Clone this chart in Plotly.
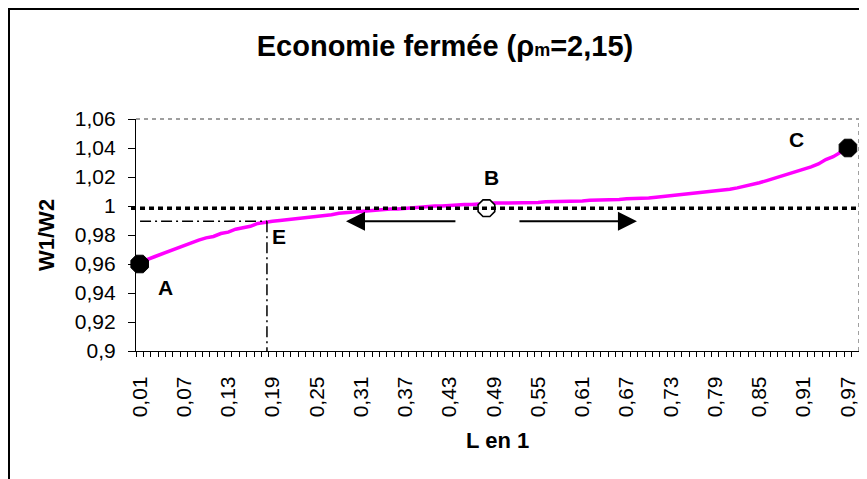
import plotly.graph_objects as go

# ---------------- data ----------------
L_VALUES = [0.01, 0.02, 0.03, 0.04, 0.05, 0.06, 0.07, 0.08, 0.09, 0.10,
            0.11, 0.12, 0.13, 0.14, 0.15, 0.16, 0.17, 0.18, 0.19, 0.20,
            0.21, 0.22, 0.23, 0.24, 0.25, 0.26, 0.27, 0.28, 0.29, 0.30,
            0.31, 0.32, 0.33, 0.34, 0.35, 0.36, 0.37, 0.38, 0.39, 0.40,
            0.41, 0.42, 0.43, 0.44, 0.45, 0.46, 0.47, 0.48, 0.49, 0.50,
            0.51, 0.52, 0.53, 0.54, 0.55, 0.56, 0.57, 0.58, 0.59, 0.60,
            0.61, 0.62, 0.63, 0.64, 0.65, 0.66, 0.67, 0.68, 0.69, 0.70,
            0.71, 0.72, 0.73, 0.74, 0.75, 0.76, 0.77, 0.78, 0.79, 0.80,
            0.81, 0.82, 0.83, 0.84, 0.85, 0.86, 0.87, 0.88, 0.89, 0.90,
            0.91, 0.92, 0.93, 0.94, 0.95, 0.96, 0.97]

W1_W2 = [0.960, 0.963, 0.965, 0.967, 0.969, 0.971, 0.973, 0.975, 0.9765, 0.978,
         0.979, 0.981, 0.982, 0.984, 0.985, 0.986, 0.988, 0.989, 0.9895, 0.990,
         0.9905, 0.991, 0.992, 0.9925, 0.993, 0.9935, 0.994, 0.995, 0.9955, 0.996,
         0.9965, 0.997, 0.997, 0.9975, 0.998, 0.998, 0.9985, 0.999, 0.999, 0.9995,
         1.000, 1.000, 1.0005, 1.001, 1.001, 1.001, 1.0015, 1.0015, 1.002, 1.002,
         1.002, 1.002, 1.0025, 1.0025, 1.0025, 1.003, 1.003, 1.003, 1.003, 1.0035,
         1.0035, 1.004, 1.004, 1.004, 1.0045, 1.0045, 1.005, 1.005, 1.0055, 1.0055,
         1.006, 1.0065, 1.007, 1.0075, 1.008, 1.0085, 1.009, 1.0095, 1.010, 1.011,
         1.0115, 1.0125, 1.0135, 1.0145, 1.016, 1.0175, 1.019, 1.0205, 1.022, 1.0235,
         1.025, 1.027, 1.029, 1.032, 1.034, 1.037, 1.039]

POINT_A = (0.01, 0.96)
POINT_B = (0.48, 0.9985)
POINT_C = (0.97, 1.04)
POINT_E = (0.1825, 0.9895)
REF_LINE_Y = 0.9985

X_TICK_VALUES = [0.01, 0.07, 0.13, 0.19, 0.25, 0.31, 0.37, 0.43, 0.49,
                 0.55, 0.61, 0.67, 0.73, 0.79, 0.85, 0.91, 0.97]
X_TICK_LABELS = ["0,01", "0,07", "0,13", "0,19", "0,25", "0,31", "0,37", "0,43", "0,49",
                 "0,55", "0,61", "0,67", "0,73", "0,79", "0,85", "0,91", "0,97"]
Y_TICK_VALUES = [0.90, 0.92, 0.94, 0.96, 0.98, 1.00, 1.02, 1.04, 1.06]
Y_TICK_LABELS = ["0,9", "0,92", "0,94", "0,96", "0,98", "1", "1,02", "1,04", "1,06"]

# ---------------- geometry (page pixels; the page body adds an 8px offset) ----------------
OFF = 8
W, H = 867, 479
PL, PR, PT, PB = 136 - OFF, 859 - OFF, 119 - OFF, 351 - OFF
FONT = "Liberation Sans, Arial, Helvetica, sans-serif"


def px_x(px):
    return (px - OFF - PL) / (PR - PL)


def px_y(py):
    return (PB - (py - OFF)) / (PB - PT)


fig = go.Figure()

# curve
fig.add_trace(go.Scatter(x=L_VALUES, y=W1_W2, mode="lines",
                         line=dict(color="#FF00FF", width=3.5),
                         hoverinfo="skip", showlegend=False, cliponaxis=False))

# markers
fig.add_trace(go.Scatter(x=[POINT_A[0], POINT_C[0]], y=[POINT_A[1], POINT_C[1]],
                         mode="markers",
                         marker=dict(symbol="octagon", size=19, color="black",
                                     line=dict(color="black", width=1)),
                         showlegend=False, cliponaxis=False))
fig.add_trace(go.Scatter(x=[POINT_B[0]], y=[POINT_B[1]], mode="markers",
                         marker=dict(symbol="octagon", size=18, color="white",
                                     line=dict(color="black", width=1.6)),
                         showlegend=False, cliponaxis=False))

shapes = []
# dotted reference line at ~1
shapes.append(dict(type="line", xref="paper", yref="y",
                   x0=px_x(131), x1=px_x(858), y0=REF_LINE_Y, y1=REF_LINE_Y,
                   line=dict(color="black", width=3.5, dash="5px,4px"), layer="above"))
# dash-dot guide lines to E
shapes.append(dict(type="line", xref="x", yref="y",
                   x0=0.0105, x1=POINT_E[0], y0=POINT_E[1], y1=POINT_E[1],
                   line=dict(color="black", width=1.5, dash="11px,4px,2px,4px")))
shapes.append(dict(type="line", xref="x", yref="y",
                   x0=POINT_E[0], x1=POINT_E[0], y0=POINT_E[1], y1=0.9,
                   line=dict(color="black", width=1.5, dash="11px,4px,2px,4px")))
# dashed plot-area border (top & right)
shapes.append(dict(type="line", xref="paper", yref="paper", x0=0, x1=1, y0=1, y1=1,
                   line=dict(color="#808080", width=1.5, dash="4px,4px")))
shapes.append(dict(type="line", xref="paper", yref="paper", x0=1, x1=1, y0=0, y1=1,
                   line=dict(color="#808080", width=1.5, dash="4px,4px")))
# outer chart frame
shapes.append(dict(type="rect", xref="paper", yref="paper",
                   x0=px_x(9), x1=px_x(W + 60), y0=px_y(H + 60), y1=px_y(9),
                   line=dict(color="black", width=2), fillcolor="rgba(0,0,0,0)"))

annotations = []
LBL = dict(family=FONT, size=21, color="black")
annotations.append(dict(x=POINT_A[0], y=POINT_A[1], xref="x", yref="y", text="<b>A</b>",
                        showarrow=False, xshift=26, yshift=-23, font=LBL))
annotations.append(dict(x=POINT_B[0], y=POINT_B[1], xref="x", yref="y", text="<b>B</b>",
                        showarrow=False, xshift=5, yshift=31, font=LBL))
annotations.append(dict(x=POINT_C[0], y=POINT_C[1], xref="x", yref="y", text="<b>C</b>",
                        showarrow=False, xshift=-51, yshift=9, font=LBL))
annotations.append(dict(x=POINT_E[0], y=POINT_E[1], xref="x", yref="y", text="<b>E</b>",
                        showarrow=False, xshift=12, yshift=-15, font=LBL))
# arrows
for tail, tip in [(0.44, 0.2896), (0.5227, 0.684)]:
    annotations.append(dict(x=tip, y=0.9895, ax=tail, ay=0.9895, xref="x", yref="y",
                            axref="x", ayref="y", text="", showarrow=True,
                            arrowhead=2, arrowsize=1.9, arrowwidth=2, arrowcolor="black"))
# axis titles
annotations.append(dict(x=px_x(46), y=px_y(235), xref="paper", yref="paper",
                        xanchor="center", yanchor="middle",
                        text="<b>W1/W2</b>", textangle=-90, showarrow=False,
                        font=dict(family=FONT, size=22, color="black")))
annotations.append(dict(x=px_x(497), y=px_y(440), xref="paper", yref="paper",
                        xanchor="center", yanchor="middle",
                        text="<b>L en 1</b>", showarrow=False,
                        font=dict(family=FONT, size=22, color="black")))

fig.update_layout(
    width=W, height=H, autosize=False,
    margin=dict(l=PL, r=W - PR, t=PT, b=H - PB, pad=0),
    paper_bgcolor="white", plot_bgcolor="white",
    font=dict(family=FONT, color="black"),
    title=dict(text="<b>Economie fermée (ρ<span style='font-size:18px'>m</span>=2,15)</b>",
               x=(445 - OFF) / W, xanchor="center", y=1 - (46 - OFF) / H, yanchor="middle",
               xref="container", yref="container",
               font=dict(family=FONT, size=29, color="black")),
    xaxis=dict(range=[0.005, 0.985], tickmode="array", tickvals=X_TICK_VALUES,
               ticktext=X_TICK_LABELS, tickangle=-90, ticks="",
               tickfont=dict(family=FONT, size=21, color="black"),
               ticklabelstandoff=16,
               showline=True, linecolor="black", linewidth=1.2,
               showgrid=False, zeroline=False,
               minor=dict(ticks="outside", tick0=0.005, dtick=0.01, ticklen=5,
                          tickcolor="black", tickwidth=1, showgrid=False)),
    yaxis=dict(range=[0.9, 1.06], tickmode="array", tickvals=Y_TICK_VALUES,
               ticktext=Y_TICK_LABELS, ticks="outside", ticklen=7, tickcolor="black",
               tickwidth=1, tickfont=dict(family=FONT, size=21, color="black"),
               ticklabelstandoff=8,
               showline=True, linecolor="black", linewidth=1.2,
               showgrid=False, zeroline=False),
    shapes=shapes, annotations=annotations, showlegend=False,
)

fig.write_html("out.html")
